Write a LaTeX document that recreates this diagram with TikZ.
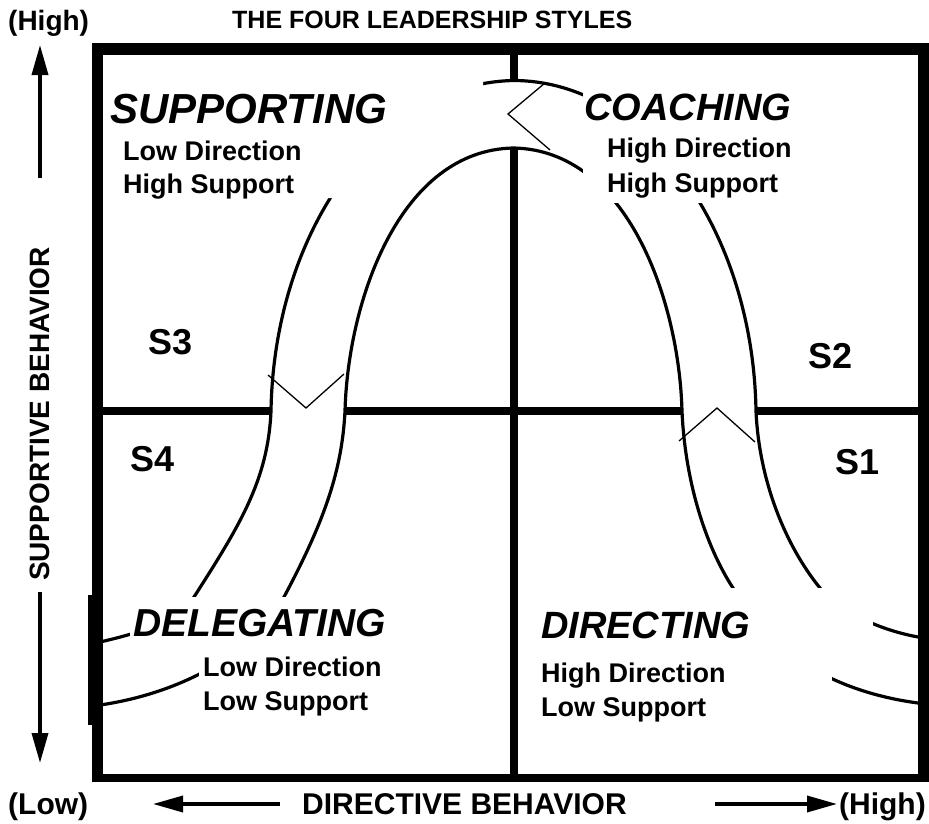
\documentclass[tikz,border=0pt]{standalone}
\usepackage{fontspec}
\setmainfont{Liberation Sans}
\usetikzlibrary{arrows.meta}
\begin{document}
\begin{tikzpicture}[x=1bp,y=-1bp,
  frame/.style={fill=black},
  curve/.style={line width=3.2bp},
  mask/.style={fill=white},
  zig/.style={line width=1.3bp, line join=miter},
  divider/.style={line width=7.5bp},
  head/.style={font=\fontsize{38bp}{38bp}\selectfont\bfseries\itshape, anchor=base west, inner sep=0pt},
  sub/.style={font=\fontsize{27bp}{27bp}\selectfont\bfseries, anchor=base west, inner sep=0pt},
  slabel/.style={font=\fontsize{36bp}{36bp}\selectfont\bfseries, anchor=base west, inner sep=0pt},
  axis/.style={font=\fontsize{30bp}{30bp}\selectfont\bfseries, inner sep=0pt},
  axarrow/.style={line width=3.5bp, -{Triangle[length=30bp,width=16bp]}}
]
\useasboundingbox (0,0) rectangle (929,824);
\fill[white] (0,0) rectangle (929,824);

% outer curve of the band
\draw[curve] (100,642) .. controls (135,634) and (178,622) .. (194,597)
  .. controls (240,525) and (268,480) .. (271,411)
  .. controls (274,230) and (380,82) .. (515,80.5)
  .. controls (647,82) and (753,230) .. (756,411)
  .. controls (759,480) and (785,545) .. (820,588)
  .. controls (840,612) and (880,630) .. (918,637);
% inner curve of the band
\draw[curve] (100,705) .. controls (170,695) and (250,660) .. (284,597)
  .. controls (325,520) and (342,470) .. (345,411)
  .. controls (348,300) and (400,150) .. (513.5,148)
  .. controls (627,150) and (679,300) .. (682,411)
  .. controls (685,480) and (705,545) .. (733,588)
  .. controls (760,640) and (820,690) .. (918,703);

% parts of the band hidden behind the texts
\fill[mask] (105,60) -- (483,60) -- (483,118) -- (420,150) -- (360,198) -- (105,198) -- cycle;
\fill[mask] (583,60) rectangle (800,203);
\fill[mask] (130,597) rectangle (390,640);
\fill[mask] (199,640) rectangle (390,722);
\fill[mask] (540,588) rectangle (873,650);
\fill[mask] (540,650) rectangle (832,725);

% frame
\fill[frame] (92,43) rectangle (929,55);
\fill[frame] (92,43) rectangle (103,782);
\fill[frame] (918,43) rectangle (929,782);
\fill[frame] (92,774) rectangle (929,782);
\fill[frame] (88,595) rectangle (94,725);

% dividers
\coordinate (vtop) at (514,49);
\coordinate (vouter) at (514,81);
\coordinate (vinner) at (514,148);
\coordinate (vbot) at (514,778);
\draw[divider] (vtop) -- (vouter);
\draw[divider] (vinner) -- (vbot);
\coordinate (hl0) at (97,411);
\coordinate (hl1) at (272,411);
\coordinate (hl2) at (346,411);
\coordinate (hl3) at (682,411);
\coordinate (hl4) at (756,411);
\coordinate (hl5) at (920,411);
\draw[divider] (hl0) -- (hl1);
\draw[divider] (hl2) -- (hl3);
\draw[divider] (hl4) -- (hl5);

% break marks
\coordinate (z1) at (545,83);
\coordinate (z2) at (508,114);
\coordinate (z3) at (550,150);
\draw[zig] (z1) -- (z2) -- (z3);
\coordinate (v1) at (268,375);
\coordinate (v2) at (306,408);
\coordinate (v3) at (344,374);
\draw[zig] (v1) -- (v2) -- (v3);
\coordinate (w1) at (679,441);
\coordinate (w2) at (717,408);
\coordinate (w3) at (755,442);
\draw[zig] (w1) -- (w2) -- (w3);

% quadrant texts
\node[head, font=\fontsize{42bp}{42bp}\selectfont\bfseries\itshape] (supp) at (110,123) {SUPPORTING};
\node[sub] (supp1) at (123,160) {Low Direction};
\node[sub] (supp2) at (123,193) {High Support};
\node[head] (coach) at (584,120) {COACHING};
\node[sub] (coach1) at (607,157) {High Direction};
\node[sub] (coach2) at (607,192) {High Support};
\node[head, font=\fontsize{39bp}{39bp}\selectfont\bfseries\itshape] (deleg) at (133,636) {DELEGATING};
\node[sub] (deleg1) at (203,676) {Low Direction};
\node[sub] (deleg2) at (203,710) {Low Support};
\node[head] (direc) at (541,638) {DIRECTING};
\node[sub] (direc1) at (541,682) {High Direction};
\node[sub] (direc2) at (541,716) {Low Support};

\node[slabel] (s3) at (148,354) {S3};
\node[slabel] (s2) at (808,368) {S2};
\node[slabel] (s4) at (130,471) {S4};
\node[slabel] (s1) at (835,474) {S1};

% axis labels
\node[axis, font=\fontsize{28bp}{28bp}\selectfont\bfseries, anchor=base west] (hightop) at (8,30) {(High)};
\node[axis, font=\fontsize{25bp}{25bp}\selectfont\bfseries, anchor=base west] (title) at (232,28) {THE FOUR LEADERSHIP STYLES};
\node[axis, anchor=base west] (low) at (8,814) {(Low)};
\node[axis, anchor=base west] (dirbeh) at (302,814) {DIRECTIVE BEHAVIOR};
\node[axis, anchor=base east] (highbot) at (926,814) {(High)};
\node[axis, font=\fontsize{28bp}{28bp}\selectfont\bfseries, rotate=90] (supbeh) at (40,414) {SUPPORTIVE BEHAVIOR};

% axis arrows
\coordinate (au0) at (40,178);
\coordinate (au1) at (40,45);
\coordinate (ad0) at (40,592);
\coordinate (ad1) at (40,763);
\coordinate (al0) at (280,804);
\coordinate (al1) at (153,804);
\coordinate (ar0) at (715,804);
\coordinate (ar1) at (837,804);
\draw[axarrow] (au0) -- (au1);
\draw[axarrow] (ad0) -- (ad1);
\draw[axarrow] (al0) -- (al1);
\draw[axarrow] (ar0) -- (ar1);
\end{tikzpicture}
\end{document}
